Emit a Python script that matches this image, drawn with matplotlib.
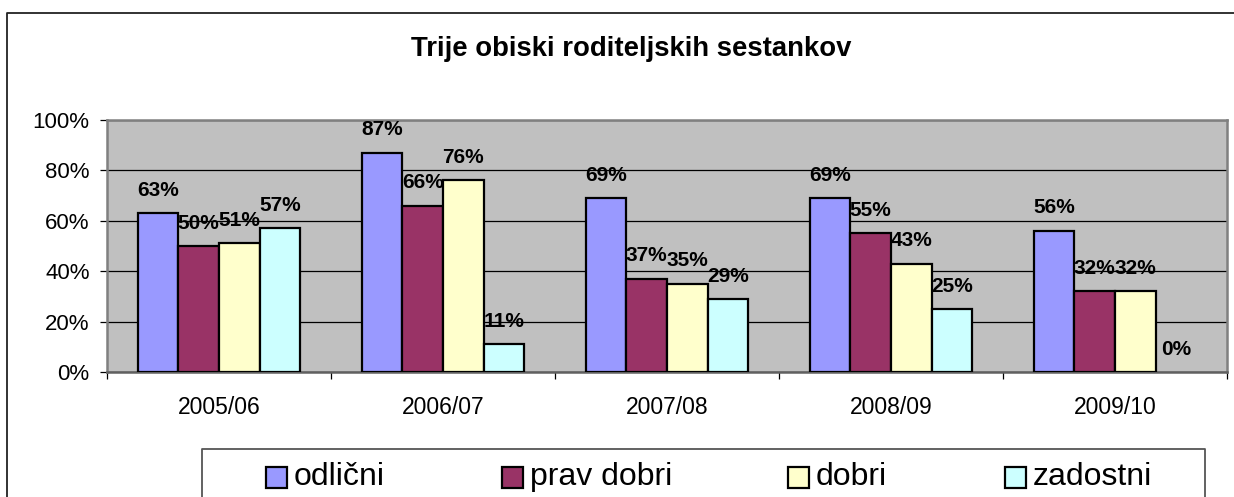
import matplotlib
matplotlib.use("Agg")
import matplotlib.pyplot as plt
from matplotlib.patches import Rectangle
from matplotlib.lines import Line2D
from matplotlib.ticker import FuncFormatter, FixedLocator
import numpy as np

plt.rcParams['font.family'] = ['Liberation Sans', 'DejaVu Sans']

categories = ["2005/06", "2006/07", "2007/08", "2008/09", "2009/10"]
series_names = ["odlični", "prav dobri", "dobri", "zadostni"]
odlicni = [63, 87, 69, 69, 56]
prav_dobri = [50, 66, 37, 55, 32]
dobri = [51, 76, 35, 43, 32]
zadostni = [57, 11, 29, 25, 0]
series_values = [odlicni, prav_dobri, dobri, zadostni]
colors = ["#9999FF", "#993366", "#FFFFCC", "#CCFFFF"]
title = "Trije obiski roditeljskih sestankov"

W, H = 1234, 497
fig = plt.figure(figsize=(W / 100, H / 100), dpi=100)


def fx(px):
    return px / W


def fy(py):
    return 1 - py / H


# outer chart border (only left and top visible within the image)
fig.add_artist(Line2D([fx(7), fx(7), 1.0], [fy(500), fy(13), fy(13)],
                      transform=fig.transFigure, color="#222222", linewidth=1.3))

ax = fig.add_axes([107 / W, 1 - 372 / H, (1227 - 107) / W, (372 - 120) / H])
ax.set_facecolor("#C0C0C0")

x = np.arange(len(categories))
bw = 0.181
for j, (vals, col) in enumerate(zip(series_values, colors)):
    pos = x + (j - 1.5) * bw
    lws = [1.6 if v > 0 else 0 for v in vals]
    bars = ax.bar(pos, vals, width=bw, color=col, edgecolor="black",
                  linewidth=lws, label=series_names[j], zorder=3)
    for b, v in zip(bars, vals):
        ax.annotate(f"{v}%", (b.get_x() + b.get_width() / 2, v),
                    xytext=(0, 16.5), textcoords="offset points",
                    ha="center", va="center", fontsize=15, fontweight="bold",
                    zorder=5)

ax.set_xlim(-0.5, 4.5)
ax.set_ylim(0, 100)
ax.set_yticks([0, 20, 40, 60, 80, 100])
ax.yaxis.set_major_formatter(FuncFormatter(lambda v, p: f"{int(v)}%"))
ax.yaxis.grid(True, color="black", linewidth=0.9, zorder=1)
ax.set_axisbelow(True)
ax.tick_params(axis="y", direction="out", length=5, width=0.9, colors="black",
               labelsize=16, pad=7.5)

ax.set_xticks(x)
ax.set_xticklabels(categories)
ax.tick_params(axis="x", which="major", length=0, labelsize=16.5, pad=17.5)
ax.xaxis.set_minor_locator(FixedLocator(np.arange(-0.5, 5.0, 1.0)))
ax.tick_params(axis="x", which="minor", direction="out", length=5, width=0.9,
               colors="black")

for s in ax.spines.values():
    s.set_color("#808080")
    s.set_linewidth(1.8)
ax.spines["bottom"].set_color("#606060")

fig.text(631 / W, 1 - 49 / H, title, ha="center", va="center",
         fontsize=19.8, fontweight="bold")

# legend frame (bottom edge lies below the image)
fig.add_artist(Line2D([fx(202), fx(202), fx(1205), fx(1205)],
                      [0.0, fy(449), fy(449), 0.0],
                      transform=fig.transFigure, color="#555555", linewidth=1.3))
sq_x = [266, 502, 788, 1005]
for sx, name, col in zip(sq_x, series_names, colors):
    fig.patches.append(Rectangle((sx / W, 1 - 488 / H), 21 / W, 21 / H,
                                 transform=fig.transFigure, facecolor=col,
                                 edgecolor="black", linewidth=1.6))
    fig.text((sx + 28) / W, 1 - 477 / H, name, ha="left", va="center",
             fontsize=23)

fig.savefig("out.png", dpi=100)
